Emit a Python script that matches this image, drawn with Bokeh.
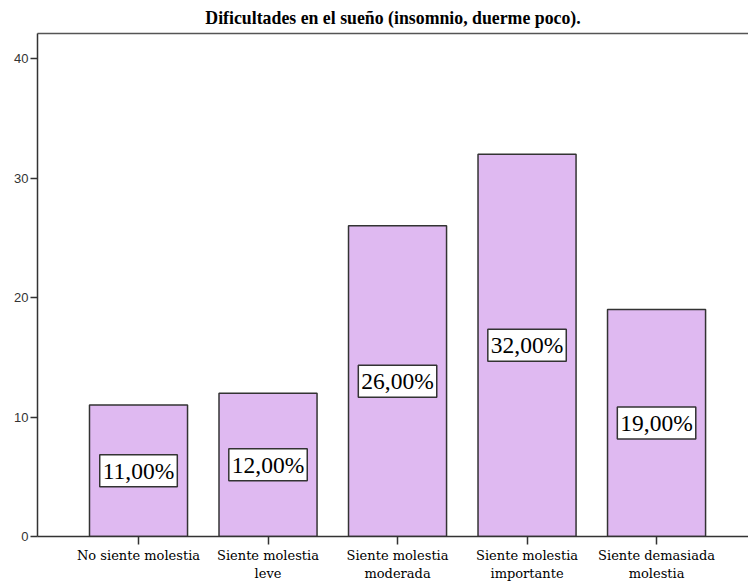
from bokeh.plotting import figure
from bokeh.models import ColumnDataSource, FixedTicker, LinearAxis, Range1d
from bokeh.core.properties import value
from bokeh.embed import file_html
from bokeh.resources import INLINE

title = "Dificultades en el sueño (insomnio, duerme poco)."
categories = ["No siente molestia", "Siente molestia\nleve", "Siente molestia\nmoderada",
              "Siente molestia\nimportante", "Siente demasiada\nmolestia"]
percentages = [11, 12, 26, 32, 19]
y_ticks = [0, 10, 20, 30, 40]

xs = list(range(1, len(categories) + 1))
labels = [f"{v:.2f}%".replace(".", ",") for v in percentages]
src = ColumnDataSource(dict(x=xs, top=percentages, mid=[v / 2 for v in percentages], label=labels))

p = figure(x_range=Range1d(0.22, 5.71), y_range=Range1d(0, 42.1),
           output_backend="svg", toolbar_location=None,
           frame_width=711, frame_height=503,
           min_border_left=37, min_border_right=0, min_border_top=33, min_border_bottom=49)

p.title.text = title
p.title.text_font = "'Liberation Serif', serif"
p.title.text_font_size = "17.8px"
p.title.text_font_style = "bold"
p.title.align = "center"
p.title.text_color = "black"
p.title.standoff = 11
p.title.offset = 5

p.outline_line_color = None
p.xgrid.grid_line_color = None
p.ygrid.grid_line_color = None

p.vbar(x="x", top="top", bottom=0, width=0.757, source=src,
       fill_color="#dfb9f1", line_color="#333333", line_width=1.5)

p.text(x="x", y="mid", text="label", source=src,
       text_font=value("Liberation Serif"), text_font_size="23.5px",
       text_align="center", text_baseline="middle", text_color="black",
       background_fill_color="white", border_line_color="#333333",
       border_line_width=1.5, padding=3)

# axes
xa = p.xaxis[0]
xa.ticker = FixedTicker(ticks=xs)
xa.major_label_overrides = {x: c for x, c in zip(xs, categories)}
xa.major_label_text_font = "'DejaVu Serif', serif"
xa.major_label_text_font_size = "13px"
xa.major_label_text_color = "black"
xa.major_tick_out = 8
xa.major_tick_in = 0
xa.minor_tick_line_color = None
xa.axis_line_color = "#333333"
xa.axis_line_width = 1.5
xa.major_tick_line_color = "#333333"
xa.major_tick_line_width = 1.5
xa.major_label_standoff = 3

ya = p.yaxis[0]
ya.ticker = FixedTicker(ticks=y_ticks)
ya.major_label_text_font = "'Liberation Sans', sans-serif"
ya.major_label_text_font_size = "13px"
ya.major_label_text_color = "#333333"
ya.major_tick_out = 7
ya.major_tick_in = 0
ya.minor_tick_line_color = None
ya.axis_line_color = "#333333"
ya.axis_line_width = 1.5
ya.major_tick_line_color = "#333333"
ya.major_tick_line_width = 1.5
ya.major_label_standoff = 2

top_axis = LinearAxis(ticker=FixedTicker(ticks=[]), axis_line_color="#555555", axis_line_width=1.5,
                      major_tick_line_color=None, minor_tick_line_color=None,
                      major_tick_out=0, major_tick_in=0, major_label_standoff=0,
                      major_label_text_font_size="0px")
p.add_layout(top_axis, "above")

open("out.html", "w").write(file_html(p, INLINE))
